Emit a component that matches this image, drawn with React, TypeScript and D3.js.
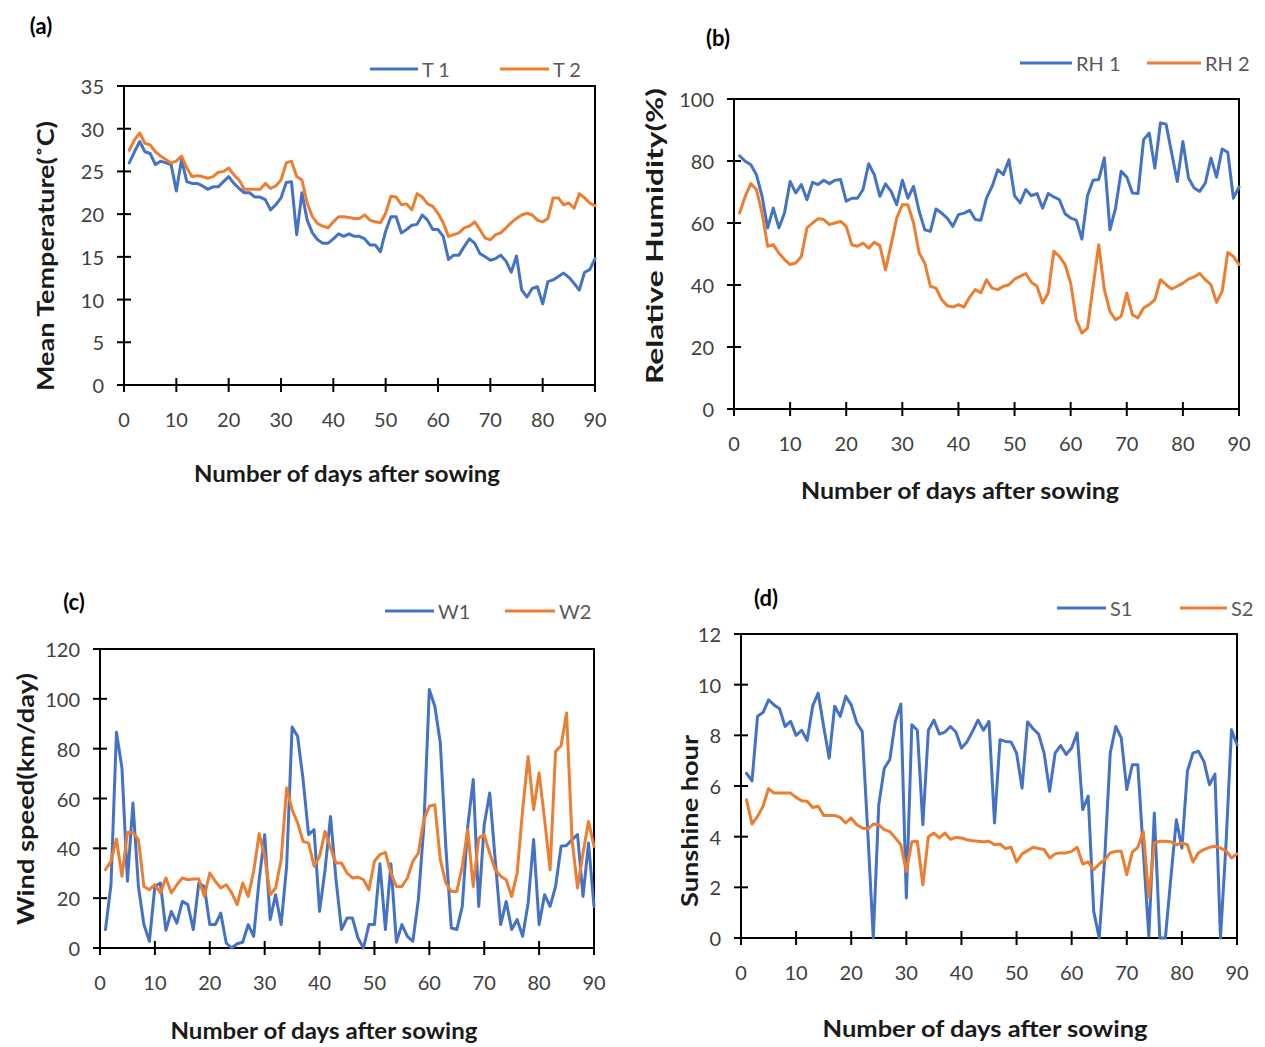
import * as d3 from 'd3'

// ---- data, day 1..90 ----
const t1 = [
  26.0, 27.3, 28.5, 27.3, 27.1, 25.8, 26.2, 26.0, 25.8, 22.7,
  26.4, 23.8, 23.6, 23.6, 23.3, 22.9, 23.2, 23.2, 23.8, 24.4,
  23.6, 23.0, 22.5, 22.5, 22.0, 22.0, 21.7, 20.5, 21.1, 21.9,
  23.7, 23.8, 17.6, 22.5, 19.3, 17.8, 17.0, 16.6, 16.6, 17.1,
  17.7, 17.4, 17.7, 17.4, 17.4, 17.1, 16.4, 16.4, 15.6, 18.0,
  19.7, 19.7, 17.8, 18.2, 18.7, 18.8, 19.9, 19.3, 18.2, 18.2,
  17.4, 14.7, 15.2, 15.2, 16.2, 17.1, 16.6, 15.4, 15.0, 14.6,
  14.8, 15.2, 14.5, 13.2, 15.1, 11.1, 10.3, 11.3, 11.5, 9.5,
  12.1, 12.3, 12.7, 13.1, 12.6, 11.9, 11.1, 13.2, 13.5, 14.8,
]
const t2 = [
  27.5, 28.7, 29.5, 28.3, 28.1, 27.3, 26.8, 26.4, 26.0, 26.2,
  26.8, 25.4, 24.4, 24.5, 24.4, 24.2, 24.4, 24.9, 25.0, 25.4,
  24.6, 24.0, 22.9, 22.9, 22.9, 22.9, 23.6, 23.0, 23.3, 24.0,
  26.0, 26.2, 24.4, 24.0, 21.3, 19.7, 18.9, 18.6, 18.4, 19.1,
  19.7, 19.7, 19.6, 19.5, 19.5, 19.9, 19.3, 19.1, 19.0, 20.1,
  22.1, 22.0, 21.1, 21.2, 20.5, 22.4, 22.0, 21.2, 20.9, 20.1,
  19.0, 17.4, 17.6, 17.8, 18.4, 18.6, 19.1, 18.2, 17.2, 17.0,
  17.6, 17.8, 18.4, 19.0, 19.5, 19.9, 20.1, 19.9, 19.3, 19.1,
  19.5, 21.9, 21.9, 21.1, 21.3, 20.7, 22.4, 21.9, 21.3, 21.0,
]
const rh1 = [
  81.7, 79.9, 78.8, 75.6, 68.6, 58.4, 64.8, 58.4, 63.2, 73.4,
  69.7, 72.4, 67.5, 73.1, 72.4, 73.8, 72.7, 73.8, 74.0, 67.0,
  68.0, 68.0, 70.8, 79.1, 75.6, 68.6, 72.6, 70.2, 65.9, 73.8,
  68.0, 71.8, 63.8, 57.8, 57.3, 64.5, 63.2, 61.6, 58.9, 62.7,
  63.2, 64.1, 61.1, 60.9, 68.0, 71.8, 77.2, 75.6, 80.4, 68.8,
  66.5, 70.8, 68.8, 69.5, 64.8, 69.5, 68.4, 67.5, 63.0, 61.6,
  60.9, 54.8, 68.8, 73.8, 74.0, 81.0, 57.8, 64.8, 76.7, 74.8,
  69.7, 69.5, 86.9, 89.0, 77.7, 92.3, 91.9, 82.6, 73.4, 86.3,
  74.5, 71.3, 70.2, 72.9, 81.0, 74.8, 83.9, 82.8, 68.0, 71.6,
]
const rh2 = [
  63.2, 68.6, 72.7, 70.8, 63.2, 52.5, 53.0, 50.3, 48.2, 46.6,
  47.1, 49.2, 58.4, 60.0, 61.4, 61.1, 59.5, 60.0, 60.5, 58.9,
  53.0, 52.5, 53.5, 51.9, 53.8, 52.7, 44.9, 53.0, 61.6, 65.9,
  65.9, 60.0, 50.3, 47.1, 39.6, 39.0, 35.3, 33.3, 32.9, 33.7,
  32.9, 36.1, 38.5, 37.5, 41.7, 39.0, 38.5, 39.6, 40.1, 41.9,
  42.8, 43.7, 40.9, 39.6, 34.2, 37.4, 50.9, 49.2, 46.6, 40.6,
  28.8, 24.5, 26.1, 39.6, 53.0, 38.5, 31.5, 28.8, 29.9, 37.4,
  30.4, 29.4, 32.6, 33.7, 35.3, 41.7, 40.1, 38.7, 39.6, 40.6,
  41.9, 42.6, 43.7, 41.7, 40.1, 34.4, 38.0, 50.5, 49.2, 46.6,
]
const w1 = [
  7.4, 25.4, 86.6, 72.2, 26.8, 58.2, 24.7, 9.4, 2.7, 24.7,
  26.1, 7.1, 14.7, 10.0, 18.7, 17.4, 7.4, 26.1, 24.7, 9.4,
  9.4, 14.0, 2.0, 0, 1.7, 2.3, 9.4, 4.7, 27.4, 45.5,
  11.4, 21.4, 9.4, 32.8, 88.7, 85.0, 67.6, 45.5, 47.5, 14.7,
  31.4, 52.8, 27.4, 7.4, 12.0, 12.0, 4.0, 0, 9.4, 9.4,
  33.8, 7.4, 33.8, 2.3, 9.4, 4.7, 2.7, 19.4, 48.8, 103.7,
  97.0, 82.3, 40.8, 8.0, 7.4, 16.7, 48.8, 67.6, 16.7, 49.5,
  62.2, 35.5, 9.4, 18.7, 7.4, 11.4, 4.7, 18.0, 43.5, 9.4,
  21.4, 16.7, 24.7, 40.8, 41.1, 43.5, 45.5, 20.7, 42.1, 16.7,
]
const w2 = [
  31.4, 34.8, 43.7, 28.8, 46.4, 46.4, 43.5, 24.7, 23.4, 25.4,
  22.1, 28.1, 22.1, 25.4, 28.1, 27.4, 27.7, 27.7, 20.7, 30.1,
  26.8, 24.1, 25.4, 22.1, 17.4, 26.1, 20.7, 30.8, 45.9, 36.8,
  21.4, 24.1, 35.5, 64.2, 55.5, 50.2, 42.8, 42.1, 32.8, 36.8,
  46.8, 40.1, 34.1, 34.1, 30.1, 28.1, 28.5, 27.4, 23.4, 34.8,
  37.5, 38.4, 30.1, 24.7, 24.7, 28.1, 34.8, 38.1, 51.5, 56.9,
  57.5, 35.5, 26.1, 22.7, 22.7, 32.8, 47.5, 24.7, 44.1, 45.5,
  38.1, 31.4, 28.8, 27.4, 20.7, 30.1, 55.5, 76.9, 55.5, 70.2,
  51.5, 31.4, 78.9, 81.2, 94.3, 43.5, 24.1, 38.1, 50.8, 40.8,
]
const s1 = [
  6.5, 6.2, 8.75, 8.9, 9.4, 9.2, 9.05, 8.35, 8.55, 8.0,
  8.2, 7.8, 9.15, 9.67, 8.35, 7.1, 9.15, 8.75, 9.54, 9.2,
  8.5, 8.15, 4.2, 0, 5.26, 6.7, 7.04, 8.55, 9.24, 1.58,
  8.42, 8.2, 4.47, 8.2, 8.6, 8.05, 8.13, 8.35, 8.13, 7.5,
  7.74, 8.15, 8.6, 8.2, 8.55, 4.54, 7.83, 7.76, 7.74, 7.3,
  5.92, 8.53, 8.26, 8.05, 7.3, 5.79, 7.3, 7.6, 7.24, 7.5,
  8.1, 5.07, 5.6, 1.05, 0, 3.16, 7.3, 8.35, 7.9, 5.86,
  6.84, 6.84, 3.42, 0.07, 4.93, 0, 0, 2.37, 4.67, 3.55,
  6.58, 7.3, 7.37, 6.97, 6.05, 6.47, 0, 3.68, 8.22, 7.63,
]
const s2 = [
  5.46, 4.5, 4.8, 5.2, 5.9, 5.72, 5.72, 5.72, 5.72, 5.55,
  5.42, 5.4, 5.15, 5.2, 4.84, 4.84, 4.84, 4.76, 4.54, 4.74,
  4.47, 4.34, 4.3, 4.5, 4.47, 4.28, 4.2, 3.95, 3.68, 2.63,
  3.8, 3.82, 2.1, 4.0, 4.14, 3.95, 4.14, 3.9, 3.97, 3.95,
  3.88, 3.84, 3.82, 3.8, 3.82, 3.68, 3.71, 3.53, 3.58, 3.0,
  3.32, 3.45, 3.58, 3.53, 3.49, 3.16, 3.32, 3.36, 3.36, 3.42,
  3.58, 2.92, 3.0, 2.7, 2.92, 3.09, 3.36, 3.42, 3.42, 2.5,
  3.39, 3.58, 4.2, 1.6, 3.75, 3.82, 3.82, 3.8, 3.68, 3.75,
  3.68, 3.0, 3.36, 3.49, 3.58, 3.62, 3.55, 3.45, 3.16, 3.32,
]

const xTicks = [0, 10, 20, 30, 40, 50, 60, 70, 80, 90]
const BLUE = '#4472c4'
const ORANGE = '#ed7d31'
const FONT = 'Lato, "Open Sans", sans-serif'

interface PanelCfg {
  tag: string
  tagAt: [number, number]
  box: { left: number; right: number; top: number; bottom: number }
  yMax: number
  yStep: number
  yTitle: string
  yTitleAt: [number, number]
  yTitleLen: number
  xTitleAt: [number, number]
  xTitleLen: number
  legendY: number
  legend: { name: string; x0: number; x1: number }[]
  series: number[][]
}

const panels: PanelCfg[] = [
  {
    tag: '(a)', tagAt: [41, 25],
    box: { left: 124, right: 595, top: 86, bottom: 385 },
    yMax: 35, yStep: 5,
    yTitle: 'Mean Temperature(˚C)', yTitleAt: [45, 256], yTitleLen: 270,
    xTitleAt: [347, 473], xTitleLen: 306,
    legendY: 69,
    legend: [{ name: 'T 1', x0: 370, x1: 418 }, { name: 'T 2', x0: 500, x1: 549 }],
    series: [t1, t2],
  },
  {
    tag: '(b)', tagAt: [718, 37],
    box: { left: 734, right: 1239, top: 99, bottom: 409 },
    yMax: 100, yStep: 20,
    yTitle: 'Relative Humidity(%)', yTitleAt: [654, 236], yTitleLen: 296,
    xTitleAt: [960, 490], xTitleLen: 318,
    legendY: 63,
    legend: [{ name: 'RH 1', x0: 1020, x1: 1072 }, { name: 'RH 2', x0: 1147, x1: 1201 }],
    series: [rh1, rh2],
  },
  {
    tag: '(c)', tagAt: [74, 601],
    box: { left: 100, right: 594, top: 649, bottom: 948 },
    yMax: 120, yStep: 20,
    yTitle: 'Wind speed(km/day)', yTitleAt: [25, 799], yTitleLen: 252,
    xTitleAt: [324, 1030], xTitleLen: 307,
    legendY: 611,
    legend: [{ name: 'W1', x0: 385, x1: 434 }, { name: 'W2', x0: 505, x1: 555 }],
    series: [w1, w2],
  },
  {
    tag: '(d)', tagAt: [766, 597],
    box: { left: 741, right: 1237, top: 634, bottom: 938 },
    yMax: 12, yStep: 2,
    yTitle: 'Sunshine hour', yTitleAt: [689, 821], yTitleLen: 172,
    xTitleAt: [985, 1028], xTitleLen: 325,
    legendY: 608,
    legend: [{ name: 'S1', x0: 1057, x1: 1106 }, { name: 'S2', x0: 1180, x1: 1227 }],
    series: [s1, s2],
  },
]

function Panel({ cfg }: { cfg: PanelCfg }) {
  const { box } = cfg
  const x = d3.scaleLinear().domain([0, 90]).range([box.left, box.right])
  const y = d3.scaleLinear().domain([0, cfg.yMax]).range([box.bottom, box.top])
  const yTicks = d3.range(0, cfg.yMax + 0.001, cfg.yStep)
  const line = d3.line<number>()
    .x((_, i) => x(i + 1))
    .y(d => y(d))
  const colors = [BLUE, ORANGE]

  return (
    <g>
      <text x={cfg.tagAt[0]} y={cfg.tagAt[1]} textAnchor="middle" dominantBaseline="central"
        fontSize={22} fontWeight="bold" fill="#000">{cfg.tag}</text>

      {/* plot frame */}
      <rect x={box.left} y={box.top} width={box.right - box.left} height={box.bottom - box.top}
        fill="none" stroke="#000" strokeWidth={2} />

      {/* y ticks */}
      {yTicks.map(t => (
        <g key={'y' + t}>
          <line x1={box.left - 7} x2={box.left + 7} y1={y(t)} y2={y(t)} stroke="#000" strokeWidth={2} />
          <text x={box.left - 20} y={y(t)} textAnchor="end" dominantBaseline="central"
            fontSize={20} fill="#404040">{t}</text>
        </g>
      ))}

      {/* x ticks */}
      {xTicks.map(t => (
        <g key={'x' + t}>
          <line x1={x(t)} x2={x(t)} y1={box.bottom - 7} y2={box.bottom + 7} stroke="#000" strokeWidth={2} />
          <text x={x(t)} y={box.bottom + 34} textAnchor="middle" dominantBaseline="central"
            fontSize={20} fill="#404040">{t}</text>
        </g>
      ))}

      {/* series */}
      {cfg.series.map((s, i) => (
        <path key={i} d={line(s) ?? ''} fill="none" stroke={colors[i]} strokeWidth={3}
          strokeLinejoin="round" strokeLinecap="round" />
      ))}

      {/* legend */}
      {cfg.legend.map((l, i) => (
        <g key={l.name}>
          <line x1={l.x0} x2={l.x1} y1={cfg.legendY} y2={cfg.legendY} stroke={colors[i]} strokeWidth={3} />
          <text x={l.x1 + 4} y={cfg.legendY} dominantBaseline="central" fontSize={20} fill="#595959">{l.name}</text>
        </g>
      ))}

      {/* axis titles */}
      <text x={cfg.xTitleAt[0]} y={cfg.xTitleAt[1]} textAnchor="middle" dominantBaseline="central"
        fontSize={22} fontWeight="bold" fill="#1a1a1a"
        textLength={cfg.xTitleLen} lengthAdjust="spacingAndGlyphs">Number of days after sowing</text>
      <text transform={`translate(${cfg.yTitleAt[0]},${cfg.yTitleAt[1]}) rotate(-90)`}
        textAnchor="middle" dominantBaseline="central"
        fontSize={22} fontWeight="bold" fill="#1a1a1a"
        textLength={cfg.yTitleLen} lengthAdjust="spacingAndGlyphs">{cfg.yTitle}</text>
    </g>
  )
}

export default function App() {
  return (
    <>
      <style>{`body{margin:0;background:#fff}`}</style>
      <svg width={1265} height={1047} fontFamily={FONT} style={{ display: 'block', background: '#fff' }}>
        {panels.map(p => <Panel key={p.tag} cfg={p} />)}
      </svg>
    </>
  )
}
